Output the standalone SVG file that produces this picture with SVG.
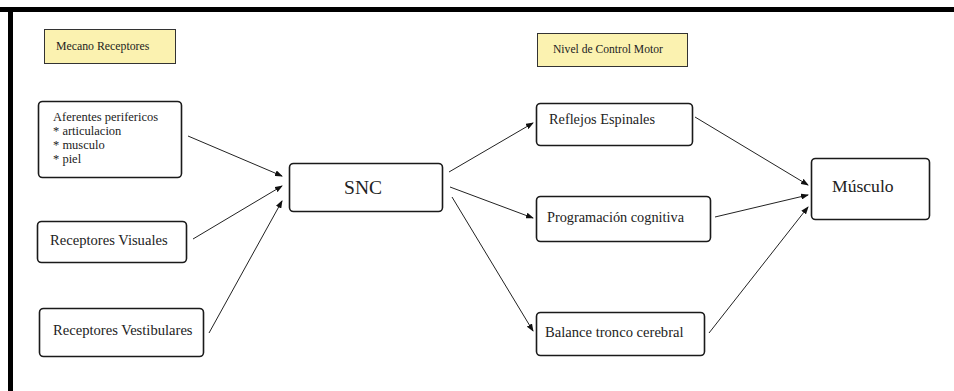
<svg xmlns="http://www.w3.org/2000/svg" width="954" height="391" viewBox="0 0 954 391" font-family="'Liberation Serif', 'DejaVu Serif', serif">
<style>
.box{fill:#fff;stroke:#1a1a1a;stroke-width:1.6}
.lbl{fill:#fbf2b0;stroke:#333;stroke-width:1}
text{font-family:'Liberation Serif','DejaVu Serif',serif;fill:#222}
.con{stroke:#222;stroke-width:1;fill:none;marker-end:url(#ah)}
</style>
<defs>
<marker id="ah" markerWidth="8" markerHeight="6" refX="7" refY="3" orient="auto" markerUnits="userSpaceOnUse">
<path d="M0,0 L8,3 L0,6 Z" fill="#111"/>
</marker>
</defs>
<rect x="0" y="0" width="954" height="391" fill="#fff"/>
<rect x="0" y="7" width="954" height="5" fill="#000"/>
<rect x="8" y="7" width="5" height="384" fill="#000"/>

<g id="mecano">
<rect class="lbl" x="44.5" y="29.5" width="131" height="34"/>
<text x="56" y="50" font-size="11.8">Mecano Receptores</text>
</g>
<g id="nivel">
<rect class="lbl" x="537.5" y="33.5" width="150" height="33"/>
<text x="553" y="53" font-size="11.6">Nivel de Control Motor</text>
</g>
<g id="aferentes">
<rect class="box" x="38.5" y="101.5" width="143" height="76" rx="4"/>
<text x="53" y="121" font-size="12.5">Aferentes perifericos</text>
<text x="53" y="134.5" font-size="12.5">* articulacion</text>
<text x="53" y="149" font-size="12.5">* musculo</text>
<text x="53" y="163" font-size="12.5">* piel</text>
</g>
<g id="visuales">
<rect class="box" x="37.5" y="221.5" width="149" height="41" rx="4"/>
<text x="50" y="245" font-size="14.6">Receptores Visuales</text>
</g>
<g id="vestibulares">
<rect class="box" x="39.5" y="308.5" width="164" height="48" rx="4"/>
<text x="53" y="335" font-size="14.6">Receptores Vestibulares</text>
</g>
<g id="snc">
<rect class="box" x="289.5" y="163.5" width="153" height="48" rx="4"/>
<text x="363" y="194" font-size="19.5" text-anchor="middle">SNC</text>
</g>
<g id="reflejos">
<rect class="box" x="536.5" y="103.5" width="156" height="42" rx="4"/>
<text x="549" y="124" font-size="14.3">Reflejos Espinales</text>
</g>
<g id="programacion">
<rect class="box" x="536.5" y="196.5" width="174" height="45" rx="4"/>
<text x="547" y="222" font-size="14.3">Programación cognitiva</text>
</g>
<g id="balance">
<rect class="box" x="536.5" y="312.5" width="168" height="43" rx="4"/>
<text x="545" y="337" font-size="14.6">Balance tronco cerebral</text>
</g>
<g id="musculo">
<rect class="box" x="811.5" y="158.5" width="118" height="61" rx="4"/>
<text x="832" y="192" font-size="17.6">Músculo</text>
</g>

<g id="connectors">
<line class="con" x1="188" y1="136" x2="282" y2="176"/>
<line class="con" x1="193" y1="239" x2="282" y2="186"/>
<line class="con" x1="209" y1="333" x2="282" y2="201"/>
<line class="con" x1="449" y1="172" x2="533" y2="123"/>
<line class="con" x1="450" y1="187" x2="533" y2="218"/>
<line class="con" x1="452" y1="197" x2="533" y2="331"/>
<line class="con" x1="695" y1="117" x2="808" y2="185"/>
<line class="con" x1="715" y1="217" x2="808" y2="195"/>
<line class="con" x1="709" y1="333" x2="808" y2="207"/>
</g>
</svg>
